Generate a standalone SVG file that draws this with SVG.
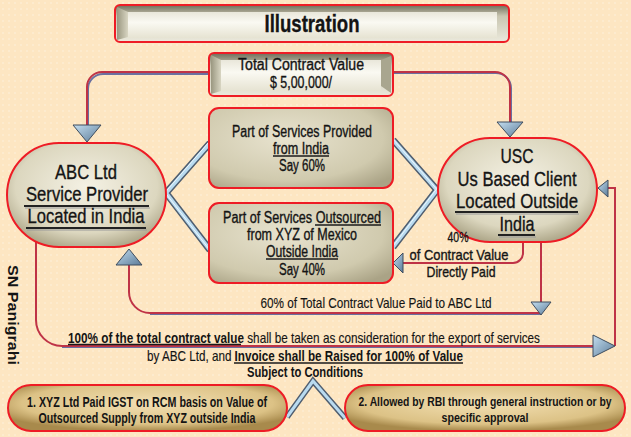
<svg xmlns="http://www.w3.org/2000/svg" width="631" height="437" viewBox="0 0 631 437">
<defs>
<pattern id="dots" width="6" height="6" patternUnits="userSpaceOnUse"><rect width="6" height="6" fill="#fde6c2"/><circle cx="3" cy="3" r="0.7" fill="#fff5e4"/></pattern>
<linearGradient id="bevOut" x1="0" y1="0" x2="0" y2="1"><stop offset="0" stop-color="#6f6d5a"/><stop offset="0.3" stop-color="#c9c6b1"/><stop offset="1" stop-color="#ebe9dc"/></linearGradient>
<linearGradient id="bevIn" x1="0" y1="0" x2="0" y2="1"><stop offset="0" stop-color="#e9e7da"/><stop offset="0.4" stop-color="#faf9f2"/><stop offset="1" stop-color="#e6e3d2"/></linearGradient>
<linearGradient id="bevSide" x1="0" y1="0" x2="1" y2="0"><stop offset="0" stop-color="#9a9780"/><stop offset="1" stop-color="#d8d5c2"/></linearGradient>
<radialGradient id="boxFill" cx="0.42" cy="0.38" r="0.75"><stop offset="0" stop-color="#e8e3cf"/><stop offset="0.7" stop-color="#d0caae"/><stop offset="1" stop-color="#aaa386"/></radialGradient>
<radialGradient id="pillFill" cx="0.5" cy="0.42" r="0.62"><stop offset="0" stop-color="#f4f1e4"/><stop offset="0.72" stop-color="#dcd7bf"/><stop offset="1" stop-color="#aaa385"/></radialGradient>
<radialGradient id="goldFill" cx="0.5" cy="0.4" r="0.6"><stop offset="0" stop-color="#f3e0b3"/><stop offset="0.75" stop-color="#dcc286"/><stop offset="1" stop-color="#a88a4c"/></radialGradient>
<linearGradient id="arrowFill" x1="0" y1="0" x2="1" y2="1"><stop offset="0" stop-color="#c4def0"/><stop offset="1" stop-color="#5b7b98"/></linearGradient>
<style>
.node{stroke:#ee1c25;stroke-width:2}
.conn{fill:none;stroke:#bf3346;stroke-width:2}
.connSh{fill:none;stroke:#6a70a0;stroke-width:2}
.pipeO{fill:none;stroke:#4f5e70;stroke-width:7;stroke-linejoin:miter}
.pipeI{fill:none;stroke:#b9dbf0;stroke-width:4;stroke-linejoin:miter}
.pipeH{fill:none;stroke:#eef7fc;stroke-width:1;stroke-linejoin:miter}
.arr{fill:url(#arrowFill);stroke:#3e4d5e;stroke-width:1}
.t{font-family:"Liberation Sans Narrow","Liberation Sans",Arial,sans-serif;fill:#141414;stroke:#141414;stroke-width:0.35}
.ul{stroke:#1a1a1a;stroke-width:1.3}
.ulb{stroke:#222;stroke-width:2}
.ulsh{stroke:#9a9a9a;stroke-width:1}
</style>
</defs>
<rect width="631" height="437" fill="url(#dots)"/>

<g id="connectors">
<path class="connSh" d="M209,73 H102 A15,15 0 0 0 87,88 V125" transform="translate(1,1)"/>
<path class="conn" d="M209,72 H102 A15,15 0 0 0 87,87 V125"/>
<path class="connSh" d="M393,72 H495 A15,15 0 0 1 510,87 V122" transform="translate(1,1)"/>
<path class="conn" d="M393,72 H495 A15,15 0 0 1 510,87 V122"/>
<path class="conn" d="M541,242 V313 H150 A21,21 0 0 1 129,292 V265"/>
<path class="connSh" d="M541,313 H150" transform="translate(0,1.5)" style="stroke-width:1"/>
<path class="conn" d="M523,242 V253 A10,10 0 0 1 513,263 H403"/>
<path class="conn" d="M36,242 V320 A26,26 0 0 0 62,346 H593"/>
<path class="connSh" d="M62,346 H593" transform="translate(0,1.5)" style="stroke-width:1"/>
<path class="conn" d="M615,346 V188 H608"/>
<path class="pipeO" d="M210,143 L166,193 L210,250"/>
<path class="pipeI" d="M210,143 L166,193 L210,250"/>
<path class="pipeH" d="M209,142 L165,192.5 L209,249"/>
<path class="pipeO" d="M393,140 L437,190 L393,247"/>
<path class="pipeI" d="M393,140 L437,190 L393,247"/>
<path class="pipeH" d="M393,139 L436.5,189 L393,246"/>
<path class="pipeO" d="M287,417 L313,381 L345,418" style="stroke-width:6"/>
<path class="pipeI" d="M287,417 L313,381 L345,418" style="stroke-width:3"/>
<polygon class="arr" points="73,125 101,125 87,142"/>
<polygon class="arr" points="497,122 523,122 510,137"/>
<polygon class="arr" points="116,265 142,265 129,249"/>
<polygon class="arr" points="531,302 551,302 541,315"/>
<polygon class="arr" points="403,253 403,273 393,263"/>
<polygon class="arr" points="593,335 593,357 615,346"/>
<polygon class="arr" points="608,180 608,197 598,188"/>
</g>

<g id="title">
<rect class="node" x="115" y="5" width="394" height="37" rx="5" fill="url(#bevOut)"/>
<polygon points="117,7 128,12 128,37 117,40" fill="url(#bevSide)"/>
<rect x="128" y="12" width="369" height="26" fill="url(#bevIn)"/>
<text class="t" x="312" y="32" font-size="24" font-weight="bold" text-anchor="middle" textLength="95" lengthAdjust="spacingAndGlyphs">Illustration</text>
</g>

<g id="total">
<rect class="node" x="209" y="53" width="184" height="43" rx="5" fill="url(#bevOut)"/>
<polygon points="211,55 221,60 221,91 211,94" fill="url(#bevSide)"/>
<polygon points="381,60 391,56 391,93 381,86" fill="#a9a68f"/>
<rect x="221" y="60" width="160" height="31" fill="url(#bevIn)"/>
<text class="t" x="301" y="70" font-size="16" text-anchor="middle" textLength="126" lengthAdjust="spacingAndGlyphs">Total Contract Value</text>
<text class="t" x="301" y="88" font-size="16" text-anchor="middle" textLength="62" lengthAdjust="spacingAndGlyphs">$ 5,00,000/</text>
</g>

<g id="abc">
<rect class="node" x="7" y="143" width="159" height="104" rx="52" fill="url(#pillFill)"/>
<text class="t" x="86" y="179" font-size="21" text-anchor="middle" textLength="62" lengthAdjust="spacingAndGlyphs">ABC Ltd</text>
<text class="t" x="87" y="201" font-size="21" text-anchor="middle" textLength="122" lengthAdjust="spacingAndGlyphs">Service Provider</text>
<line class="ulsh" x1="25" y1="208" x2="150" y2="208"/>
<line class="ulb" x1="24" y1="206" x2="149" y2="206"/>
<text class="t" x="86" y="223" font-size="21" text-anchor="middle" textLength="117" lengthAdjust="spacingAndGlyphs">Located in India</text>
<line class="ulsh" x1="27" y1="230" x2="147" y2="230"/>
<line class="ulb" x1="26" y1="228" x2="146" y2="228"/>
</g>

<g id="usc">
<rect class="node" x="438" y="138" width="159" height="104" rx="52" fill="url(#pillFill)"/>
<text class="t" x="517" y="163" font-size="21" text-anchor="middle" textLength="33" lengthAdjust="spacingAndGlyphs">USC</text>
<text class="t" x="517" y="186" font-size="21" text-anchor="middle" textLength="119" lengthAdjust="spacingAndGlyphs">Us Based Client</text>
<text class="t" x="517" y="208" font-size="21" text-anchor="middle" textLength="122" lengthAdjust="spacingAndGlyphs">Located Outside</text>
<line class="ulsh" x1="456" y1="214" x2="579" y2="214"/>
<line class="ulb" x1="455" y1="212" x2="578" y2="212"/>
<text class="t" x="517" y="231" font-size="21" text-anchor="middle" textLength="35" lengthAdjust="spacingAndGlyphs">India</text>
<line class="ulsh" x1="499" y1="237" x2="536" y2="237"/>
<line class="ulb" x1="498" y1="235" x2="535" y2="235"/>
</g>

<g id="box1">
<rect class="node" x="209" y="108" width="184" height="80" rx="10" fill="url(#boxFill)"/>
<text class="t" x="302" y="137" font-size="16" text-anchor="middle" textLength="140" lengthAdjust="spacingAndGlyphs">Part of Services Provided</text>
<text class="t" x="301" y="154" font-size="16" text-anchor="middle" textLength="56" lengthAdjust="spacingAndGlyphs">from India</text>
<line class="ul" x1="273" y1="156" x2="329" y2="156"/>
<text class="t" x="302" y="171" font-size="16" text-anchor="middle" textLength="46" lengthAdjust="spacingAndGlyphs">Say 60%</text>
</g>

<g id="box2">
<rect class="node" x="209" y="203" width="184" height="80" rx="10" fill="url(#boxFill)"/>
<text class="t" x="223" y="223" font-size="16" textLength="158" lengthAdjust="spacingAndGlyphs">Part of Services Outsourced</text>
<line class="ul" x1="315" y1="225" x2="381" y2="225"/>
<text class="t" x="302" y="240" font-size="16" text-anchor="middle" textLength="110" lengthAdjust="spacingAndGlyphs">from XYZ  of Mexico</text>
<text class="t" x="302" y="257" font-size="16" text-anchor="middle" textLength="72" lengthAdjust="spacingAndGlyphs">Outside India</text>
<line class="ul" x1="266" y1="259" x2="338" y2="259"/>
<text class="t" x="302" y="275" font-size="16" text-anchor="middle" textLength="46" lengthAdjust="spacingAndGlyphs">Say 40%</text>
</g>

<g id="cond1">
<rect class="node" x="8" y="385" width="279" height="46" rx="23" fill="url(#goldFill)"/>
<text class="t" x="147" y="407" font-size="14" font-weight="bold" text-anchor="middle" textLength="240" lengthAdjust="spacingAndGlyphs" style="stroke-width:0">1. XYZ Ltd Paid IGST on RCM basis on Value of</text>
<text class="t" x="147" y="423" font-size="14" font-weight="bold" text-anchor="middle" textLength="217" lengthAdjust="spacingAndGlyphs" style="stroke-width:0">Outsourced Supply from XYZ outside India</text>
</g>

<g id="cond2">
<rect class="node" x="345" y="385" width="280" height="46" rx="23" fill="url(#goldFill)"/>
<text class="t" x="485" y="406" font-size="13" font-weight="bold" text-anchor="middle" textLength="253" lengthAdjust="spacingAndGlyphs" style="stroke-width:0">2. Allowed by RBI through general instruction or by</text>
<text class="t" x="485" y="422" font-size="13.5" font-weight="bold" text-anchor="middle" textLength="87" lengthAdjust="spacingAndGlyphs" style="stroke-width:0">specific approval</text>
</g>

<g id="labels">
<text class="t" x="458" y="242" font-size="15" text-anchor="middle" textLength="21" lengthAdjust="spacingAndGlyphs">40%</text>
<text class="t" x="459" y="260" font-size="15" text-anchor="middle" textLength="99" lengthAdjust="spacingAndGlyphs">of  Contract Value</text>
<text class="t" x="461" y="277" font-size="15" text-anchor="middle" textLength="69" lengthAdjust="spacingAndGlyphs">Directly Paid</text>
<text class="t" x="376" y="308" font-size="15" text-anchor="middle" textLength="231" lengthAdjust="spacingAndGlyphs" style="stroke-width:0.15">60% of Total Contract Value Paid to ABC Ltd</text>
<text class="t" x="68" y="343" font-size="15" textLength="472" lengthAdjust="spacingAndGlyphs" style="stroke-width:0.15"><tspan font-weight="bold" style="stroke-width:0">100% of the total contract value</tspan> shall be taken as consideration for the export of services</text>
<line class="ul" x1="68" y1="344.5" x2="241" y2="344.5"/>
<text class="t" x="147" y="361" font-size="15" textLength="316" lengthAdjust="spacingAndGlyphs" style="stroke-width:0.15">by ABC Ltd, and <tspan font-weight="bold" style="stroke-width:0">Invoice  shall be Raised for 100% of Value</tspan></text>
<line class="ul" x1="234" y1="363" x2="463" y2="363"/>
<text class="t" x="305" y="377" font-size="15" font-weight="bold" text-anchor="middle" textLength="116" lengthAdjust="spacingAndGlyphs" style="stroke-width:0">Subject to Conditions</text>
<text class="t" transform="translate(8,265) rotate(90)" x="0" y="0" font-size="14" font-weight="bold" textLength="100" lengthAdjust="spacingAndGlyphs" style="stroke-width:0">SN Panigrahi</text>
</g>
</svg>
